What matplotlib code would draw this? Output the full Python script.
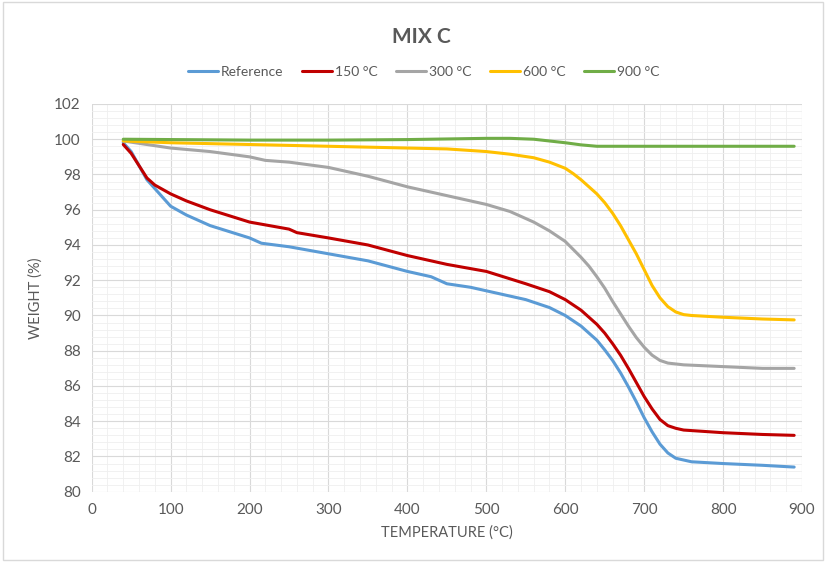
import matplotlib.pyplot as plt
from matplotlib.ticker import MultipleLocator
from matplotlib.patches import Rectangle

plt.rcParams['font.family'] = ['Lato', 'DejaVu Sans']

# ---- data ----
ref_t = [40, 50, 60, 70, 80, 100, 120, 150, 200, 215, 250, 300, 350, 400, 430, 450, 480, 500,
         550, 580, 600, 620, 640, 650, 660, 670, 680, 690, 700, 710, 720, 730, 740, 750, 760,
         800, 850, 890]
ref_w = [99.8, 99.3, 98.5, 97.7, 97.2, 96.2, 95.7, 95.1, 94.4, 94.1, 93.9, 93.5, 93.1, 92.5, 92.2,
         91.8, 91.6, 91.4, 90.9, 90.45, 90.0, 89.4, 88.6, 88.05, 87.45, 86.75, 85.95, 85.1, 84.2,
         83.4, 82.7, 82.2, 81.9, 81.8, 81.7, 81.6, 81.5, 81.4]

t150 = [40, 50, 60, 70, 80, 100, 120, 150, 200, 250, 260, 300, 350, 400, 450, 500, 550, 580,
        600, 620, 640, 650, 660, 670, 680, 690, 700, 710, 720, 730, 740, 750, 800, 850, 890]
w150 = [99.7, 99.2, 98.5, 97.8, 97.4, 96.9, 96.5, 96.0, 95.3, 94.9, 94.7, 94.4, 94.0, 93.4, 92.9,
        92.5, 91.8, 91.35, 90.9, 90.3, 89.5, 89.0, 88.4, 87.75, 87.0, 86.2, 85.4, 84.7, 84.1,
        83.75, 83.6, 83.5, 83.35, 83.25, 83.2]

t300 = [40, 100, 150, 200, 220, 250, 300, 350, 400, 450, 500, 530, 560, 580, 600, 620, 630, 640,
        650, 660, 670, 680, 690, 700, 710, 720, 730, 750, 800, 850, 890]
w300 = [99.9, 99.5, 99.3, 99.0, 98.8, 98.7, 98.4, 97.9, 97.3, 96.8, 96.3, 95.9, 95.3, 94.8, 94.2,
        93.3, 92.8, 92.2, 91.55, 90.8, 90.1, 89.4, 88.75, 88.2, 87.75, 87.45, 87.3, 87.2, 87.1,
        87.0, 87.0]

t600 = [40, 100, 200, 300, 400, 450, 500, 530, 560, 580, 600, 610, 620, 630, 640, 650, 660, 670,
        680, 690, 700, 710, 720, 730, 740, 750, 760, 800, 850, 890]
w600 = [99.9, 99.8, 99.7, 99.6, 99.5, 99.45, 99.3, 99.15, 98.95, 98.7, 98.35, 98.05, 97.7, 97.3,
        96.9, 96.4, 95.8, 95.1, 94.3, 93.5, 92.6, 91.7, 91.0, 90.5, 90.2, 90.05, 90.0, 89.9,
        89.8, 89.75]

t900 = [40, 200, 300, 400, 500, 530, 560, 580, 600, 620, 640, 660, 700, 890]
w900 = [100.0, 99.95, 99.95, 99.98, 100.05, 100.05, 100.0, 99.9, 99.8, 99.68, 99.6, 99.6, 99.6,
        99.6]

series = [
    ("Reference", ref_t, ref_w, "#5b9bd5"),
    ("150 °C", t150, w150, "#c00000"),
    ("300 °C", t300, w300, "#a5a5a5"),
    ("600 °C", t600, w600, "#ffc000"),
    ("900 °C", t900, w900, "#70ad47"),
]

fig = plt.figure(figsize=(8.26, 5.62), dpi=100)
ax = fig.add_axes([0.111, 0.125, 0.86, 0.69])

for name, t, w, c in series:
    ax.plot(t, w, color=c, lw=2.2, label=name, solid_capstyle='round',
            solid_joinstyle='round')

ax.set_xlim(0, 900)
ax.set_ylim(80, 102)
ax.xaxis.set_major_locator(MultipleLocator(100))
ax.xaxis.set_minor_locator(MultipleLocator(20))
ax.yaxis.set_major_locator(MultipleLocator(2))
ax.yaxis.set_minor_locator(MultipleLocator(0.4))
ax.grid(which='major', color='#d9d9d9', lw=0.8)
ax.grid(which='minor', color='#efefef', lw=0.6)
ax.set_axisbelow(True)
for s in ax.spines.values():
    s.set_visible(False)
ax.tick_params(which='both', length=0, colors='#595959', labelsize=11, pad=8)

ax.set_xlabel('TEMPERATURE (°C)', color='#595959', fontsize=10.5, labelpad=6)
ax.set_ylabel('WEIGHT (%)', color='#595959', fontsize=10.5, labelpad=8)

fig.text(0.51, 0.935, 'MIX C', ha='center', va='center', fontsize=15, fontweight='bold',
         color='#595959')
fig.legend(loc='center', bbox_to_anchor=(0.513, 0.872), ncol=5, frameon=False,
           fontsize=10, handlelength=2.2, handletextpad=0.2, columnspacing=1.3,
           labelcolor='#595959')

fig.patches.append(Rectangle((0.004, 0.004), 0.992, 0.992, transform=fig.transFigure,
                             fill=False, edgecolor='#d9d9d9', lw=1))

fig.savefig('out.png', dpi=100)
